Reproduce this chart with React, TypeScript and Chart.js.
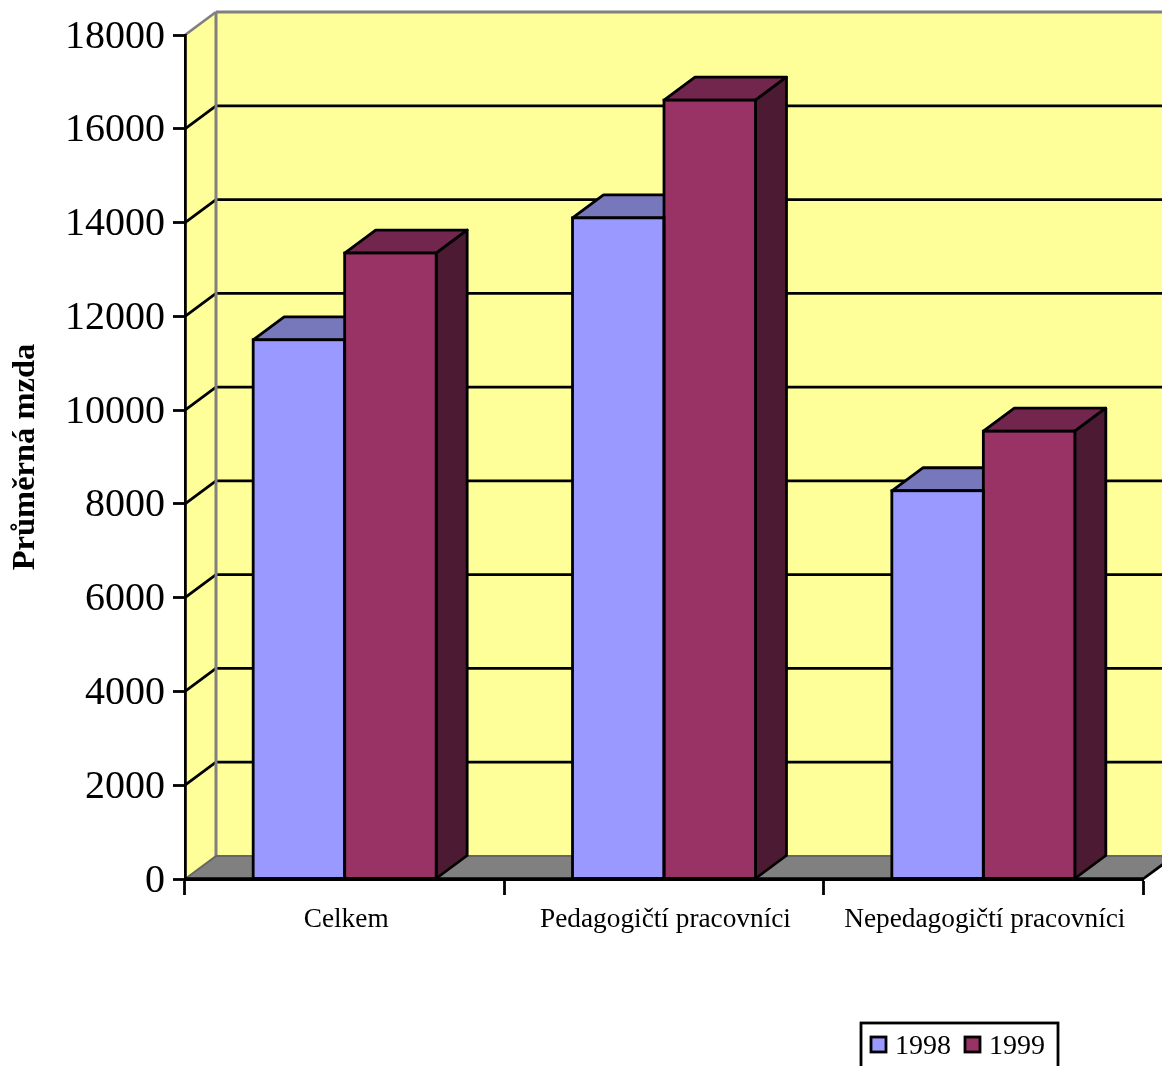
import React, { useEffect, useRef } from "react";
import { Chart, registerables } from "chart.js";

Chart.register(...registerables);

const categories = ["Celkem", "Pedagogičtí pracovníci", "Nepedagogičtí pracovníci"];
const values1998 = [11500, 14100, 8280];
const values1999 = [13350, 16610, 9550];
const seriesLabels = ["1998", "1999"];
const yAxisTitle = "Průměrná mzda";

const SERIF = "'Liberation Serif', 'Times New Roman', serif";
const DX = 31;
const DY = -23;
const LW = 2.8;

const FRONT = ["#9999FF", "#993366"];
const TOP = ["#7777BB", "#73264D"];
const SIDE = ["#4D4D80", "#4D1A33"];

const poly = (ctx: CanvasRenderingContext2D, pts: number[][], fill?: string, stroke?: string, lw = LW) => {
  ctx.beginPath();
  pts.forEach(([x, y], i) => (i ? ctx.lineTo(x, y) : ctx.moveTo(x, y)));
  ctx.closePath();
  if (fill) {
    ctx.fillStyle = fill;
    ctx.fill();
  }
  if (stroke) {
    ctx.strokeStyle = stroke;
    ctx.lineWidth = lw;
    ctx.lineJoin = "round";
    ctx.stroke();
  }
};

const line = (ctx: CanvasRenderingContext2D, x1: number, y1: number, x2: number, y2: number, color: string, lw = LW) => {
  ctx.beginPath();
  ctx.moveTo(x1, y1);
  ctx.lineTo(x2, y2);
  ctx.strokeStyle = color;
  ctx.lineWidth = lw;
  ctx.stroke();
};

const wallPlugin = {
  id: "wall3d",
  beforeDraw(chart: any) {
    const { ctx, chartArea: a, scales } = chart;
    const y = scales.y;
    ctx.save();
    // left and back walls
    poly(ctx, [[a.left, a.top], [a.left + DX, a.top + DY], [a.left + DX, a.bottom + DY], [a.left, a.bottom]], "#FFFF99");
    poly(ctx, [[a.left + DX, a.top + DY], [a.right + DX, a.top + DY], [a.right + DX, a.bottom + DY], [a.left + DX, a.bottom + DY]], "#FFFF99");
    // floor
    poly(ctx, [[a.left, a.bottom], [a.left + DX, a.bottom + DY], [a.right + DX, a.bottom + DY], [a.right, a.bottom]], "#808080");
    // gridlines
    y.ticks.forEach((t: any) => {
      if (t.value === 0 || t.value === y.max) return;
      const py = y.getPixelForValue(t.value);
      line(ctx, a.left, py, a.left + DX, py + DY, "#000");
      line(ctx, a.left + DX, py + DY, a.right + DX, py + DY, "#000");
    });
    // grey wall edges
    line(ctx, a.left, a.top, a.left + DX, a.top + DY, "#808080", 2.8);
    line(ctx, a.left + DX, a.top + DY, a.right + DX, a.top + DY, "#808080", 3);
    line(ctx, a.left + DX, a.top + DY, a.left + DX, a.bottom + DY, "#808080", 3);
    line(ctx, a.left, a.bottom, a.left + DX, a.bottom + DY, "#666", 2);
    line(ctx, a.left + DX, a.bottom + DY, a.right + DX, a.bottom + DY, "#666", 2);
    line(ctx, a.right, a.bottom, a.right + DX, a.bottom + DY, "#000", LW);
    ctx.restore();
  },
  beforeDatasetsDraw(chart: any) {
    const { ctx } = chart;
    ctx.save();
    chart.data.datasets.forEach((_: any, i: number) => {
      chart.getDatasetMeta(i).data.forEach((bar: any) => {
        const l = bar.x - bar.width / 2;
        const r = bar.x + bar.width / 2;
        poly(ctx, [[l, bar.y], [l + DX, bar.y + DY], [r + DX, bar.y + DY], [r, bar.y]], TOP[i], "#000");
        poly(ctx, [[r, bar.y], [r + DX, bar.y + DY], [r + DX, bar.base + DY], [r, bar.base]], SIDE[i], "#000");
      });
    });
    ctx.restore();
  },
  afterDatasetsDraw(chart: any) {
    const { ctx, chartArea: a } = chart;
    ctx.save();
    chart.data.datasets.forEach((_: any, i: number) => {
      chart.getDatasetMeta(i).data.forEach((bar: any) => {
        ctx.strokeStyle = "#000";
        ctx.lineWidth = LW;
        ctx.strokeRect(bar.x - bar.width / 2, bar.y, bar.width, bar.base - bar.y);
      });
    });
    line(ctx, a.left, a.bottom, a.right, a.bottom, "#000", 3.6);
    ctx.restore();
  },
  afterDraw(chart: any) {
    const { ctx } = chart;
    ctx.save();
    // legend
    ctx.strokeStyle = "#000";
    ctx.lineWidth = LW;
    ctx.strokeRect(861, 1023, 197, 60);
    ctx.font = `28px ${SERIF}`;
    ctx.textBaseline = "middle";
    ctx.textAlign = "left";
    chart.data.datasets.forEach((ds: any, i: number) => {
      const bx = 871 + i * 94;
      ctx.fillStyle = FRONT[i];
      ctx.fillRect(bx, 1037, 15, 15);
      ctx.strokeRect(bx, 1037, 15, 15);
      ctx.fillStyle = "#000";
      ctx.fillText(ds.label, bx + 24, 1047);
    });
    ctx.restore();
  },
};

export default function App() {
  const ref = useRef<HTMLCanvasElement>(null);
  useEffect(() => {
    const chart = new Chart(ref.current!, {
      type: "bar",
      data: {
        labels: categories,
        datasets: [
          { label: seriesLabels[0], data: values1998, backgroundColor: FRONT[0] },
          { label: seriesLabels[1], data: values1999, backgroundColor: FRONT[1] },
        ],
      },
      options: {
        animation: false,
        responsive: false,
        devicePixelRatio: 1,
        layout: { padding: { top: 35, right: 19, left: 0, bottom: 0 } },
        datasets: {
          bar: {
            categoryPercentage: 0.573,
            barPercentage: 1,
            borderWidth: 0,
          },
        },
        plugins: { legend: { display: false }, tooltip: { enabled: false } },
        scales: {
          x: {
            afterFit: (s: any) => {
              s.height = 187;
            },
            grid: { drawOnChartArea: false, drawTicks: true, tickLength: 16, tickColor: "#000", tickWidth: 2.8, color: "#000" },
            border: { display: true, color: "#000", width: 3 },
            ticks: {
              color: "#000",
              font: { family: SERIF, size: 27.3 },
              maxRotation: 0,
              minRotation: 0,
              autoSkip: false,
              padding: 8,
              labelOffset: 1.5,
            },
          },
          y: {
            min: 0,
            max: 18000,
            afterFit: (s: any) => {
              s.width = 185;
            },
            grid: { drawOnChartArea: false, drawTicks: true, tickLength: 12, tickColor: "#000", tickWidth: 2.8, color: "#000" },
            border: { display: true, color: "#000", width: 2.8 },
            ticks: {
              stepSize: 2000,
              callback: (v: any) => String(v),
              color: "#000",
              font: { family: SERIF, size: 40 },
              padding: 8,
              labelOffset: 2,
            },
            title: {
              display: true,
              text: yAxisTitle,
              color: "#000",
              font: { family: SERIF, size: 32.5, weight: "bold" },
              padding: { top: 6, bottom: 0 },
            },
          },
        },
      },
      plugins: [wallPlugin],
    } as any);
    return () => chart.destroy();
  }, []);
  return (
    <div style={{ position: "absolute", left: 0, top: 0, width: 1162, height: 1066, background: "#fff", overflow: "hidden" }}>
      <canvas ref={ref} width={1162} height={1066} style={{ display: "block" }} />
    </div>
  );
}
